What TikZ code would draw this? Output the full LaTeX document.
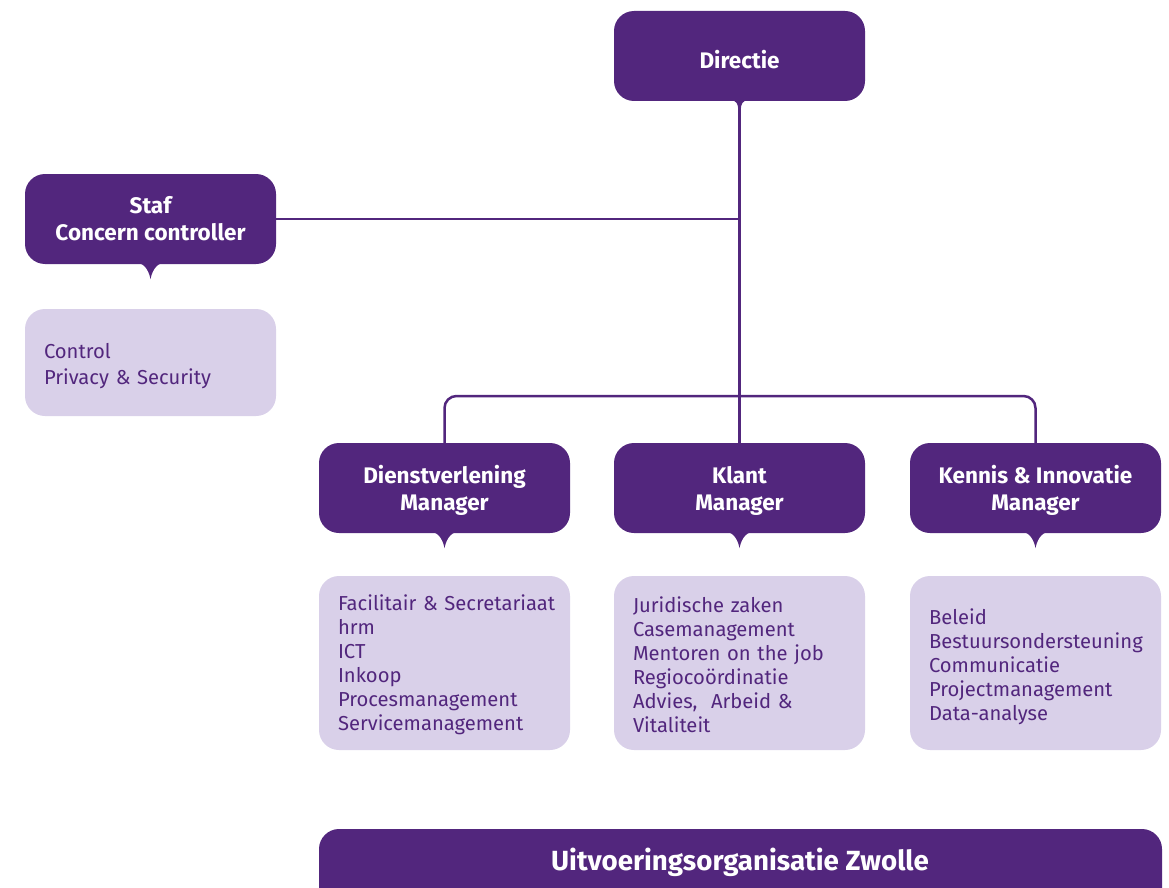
\documentclass[tikz,border=0pt]{standalone}
\usepackage{fontspec}
\setmainfont{Fira Sans}
\definecolor{dark}{RGB}{82,38,125}
\definecolor{light}{RGB}{217,208,233}
\begin{document}
\begin{tikzpicture}[x=1pt,y=-1pt,
  head/.style={fill=dark, text=white, rounded corners=20pt, minimum width=251pt, minimum height=90pt,
    align=center, inner sep=0pt, font=\bfseries\fontsize{22.5}{27}\selectfont},
  sub/.style={fill=light, text=dark, rounded corners=20pt, minimum width=251pt, inner xsep=19pt, inner ysep=0pt,
    text width=213pt, align=left, font=\fontsize{20.2}{24}\selectfont},
  conn/.style={draw=dark, line width=2.5pt}]
\useasboundingbox (0,0) rectangle (1169,888);
\newcommand\pointer[1]{\fill[dark] (#1.south) ++(-13,-1) .. controls +(8,0) and +(-1,-6) .. ++(13,16) .. controls +(1,-6) and +(-8,0) .. ++(13,-16) -- cycle;}
% nodes
\node[head] (directie) at (739.5,56) {\rule{0pt}{25pt}Directie};
\node[head] (staf) at (150.5,219) {Staf\\Concern controller};
\node[sub, minimum height=107pt, font=\fontsize{20.2}{26}\selectfont] (control) at (150.5,362.5) {\rule{0pt}{22pt}Control\\Privacy \& Security};
\node[head] (dienst) at (444.5,488) {\rule{0pt}{22pt}Dienstverlening\\Manager};
\node[head] (klant) at (739.5,488) {\rule{0pt}{22pt}Klant\\Manager};
\node[head] (kennis) at (1035.5,488) {\rule{0pt}{22pt}Kennis \& Innovatie\\Manager};
\node[sub, minimum height=174pt] (dsub) at (444.5,663) {\rule{0pt}{19pt}\mbox{Facilitair \& Secretariaat}\\hrm\\ICT\\Inkoop\\Procesmanagement\\Servicemanagement};
\node[sub, minimum height=174pt] (ksub) at (739.5,663) {\rule{0pt}{19pt}Juridische zaken\\Casemanagement\\Mentoren on the job\\Regiocoördinatie\\Advies,\ \ Arbeid \&\\Vitaliteit};
\node[sub, minimum height=174pt] (isub) at (1035.5,663) {\rule{0pt}{24pt}Beleid\\Bestuursondersteuning\\Communicatie\\Projectmanagement\\Data-analyse};
% bottom bar
\fill[dark] (319,888) -- (319,849) .. controls (319,838) and (328,829) .. (339,829) -- (1142,829) .. controls (1153,829) and (1162,838) .. (1162,849) -- (1162,888) -- cycle;
\node[text=white, font=\bfseries\fontsize{27.7}{30}\selectfont] (uo) at (740,862) {Uitvoeringsorganisatie Zwolle};
% pointers
\pointer{staf}
\pointer{dienst}
\pointer{klant}
\pointer{kennis}
% connectors
\coordinate (bus) at (739.5,396);
\draw[conn] (directie.south) -- (klant.north);
\draw[conn] (staf.east) -- (staf.east -| directie.south);
\draw[conn, rounded corners=12pt] (dienst.north) |- (bus) -| (kennis.north);
\fill[dark] (directie.south) ++(-9,-1) .. controls +(6,0) and +(0,-6) .. ++(7.75,10) -- ++(2.5,0) .. controls +(0,-6) and +(-6,0) .. ++(7.75,-10) -- cycle;
\end{tikzpicture}
\end{document}
